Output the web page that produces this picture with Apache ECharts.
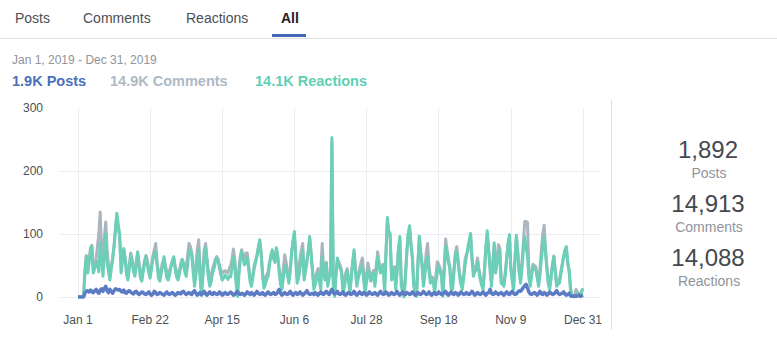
<!DOCTYPE html>
<html>
<head>
<meta charset="utf-8">
<title>Activity</title>
<script src="https://cdn.jsdelivr.net/npm/echarts@6/dist/echarts.min.js"></script>
<style>
  html, body { margin: 0; padding: 0; background: #fff; }
  #main { width: 777px; height: 350px; }
</style>
</head>
<body>
<div id="main"></div>
<script>
// tabs + summary texts
const tabs = ['Posts', 'Comments', 'Reactions', 'All']
const dateRange = 'Jan 1, 2019 - Dec 31, 2019'
const totals = ['1,892', '14,913', '14,088']
const totalNames = ['Posts', 'Comments', 'Reactions']
const shortTotals = ['1.9K Posts', '14.9K Comments', '14.1K Reactions']
const yTicks = [0, 100, 200, 300]

// daily values, Jan 1 .. Dec 31 2019
const reactions = [
  0, 0, 0, 0, 0, 40, 64, 38, 55, 70,
  81, 38, 45, 50, 56, 40, 85, 60, 33, 70,
  100, 55, 40, 27, 45, 60, 80, 110, 133, 115,
  100, 38, 55, 77, 60, 35, 27, 45, 67, 55,
  40, 33, 50, 72, 50, 30, 25, 40, 55, 64,
  50, 38, 30, 45, 60, 65, 72, 50, 30, 25,
  38, 50, 64, 45, 30, 27, 35, 48, 55, 64,
  45, 32, 27, 35, 48, 59, 50, 40, 33, 50,
  75, 70, 67, 40, 17, 35, 55, 75, 30, 2,
  30, 60, 78, 55, 30, 17, 25, 38, 45, 55,
  62, 58, 45, 35, 27, 30, 35, 32, 28, 33,
  32, 45, 64, 50, 20, 1, 35, 60, 72, 60,
  51, 55, 62, 45, 25, 17, 30, 45, 55, 65,
  80, 91, 70, 35, 14, 20, 28, 33, 50, 65,
  75, 60, 55, 78, 65, 40, 20, 12, 30, 50,
  45, 35, 22, 40, 70, 90, 104, 60, 22, 30,
  45, 60, 75, 27, 40, 55, 75, 96, 70, 40,
  12, 20, 30, 38, 25, 12, 64, 38, 27, 54,
  17, 30, 35, 253, 20, 1, 35, 62, 50, 45,
  38, 6, 15, 30, 41, 25, 6, 30, 55, 75,
  40, 17, 30, 38, 45, 49, 25, 6, 25, 43,
  35, 25, 30, 38, 17, 40, 64, 50, 38, 42,
  49, 6, 70, 126, 105, 101, 27, 35, 43, 12,
  40, 75, 96, 17, 8, 0, 30, 70, 100, 113,
  85, 64, 17, 8, 1, 50, 97, 70, 49, 17,
  35, 55, 64, 40, 22, 25, 27, 6, 25, 40,
  49, 40, 33, 1, 40, 80, 70, 55, 45, 12,
  12, 40, 65, 72, 55, 33, 20, 12, 30, 50,
  65, 78, 90, 101, 60, 33, 40, 43, 55, 40,
  27, 18, 12, 40, 80, 105, 75, 43, 17, 50,
  86, 38, 50, 64, 75, 22, 20, 17, 35, 60,
  85, 99, 43, 25, 12, 60, 98, 70, 38, 22,
  45, 75, 96, 80, 64, 30, 17, 35, 49, 45,
  43, 30, 17, 35, 60, 80, 96, 70, 43, 20,
  12, 30, 50, 64, 40, 17, 20, 22, 35, 50,
  65, 75, 80, 55, 43, 12, 1, 0, 0, 2,
  5, 3, 1, 8, 14
]

const comments = [
  0, 0, 0, 0, 0, 42, 66, 45, 60, 78,
  82, 45, 50, 60, 80, 100, 135, 70, 45, 95,
  119, 75, 48, 35, 50, 62, 82, 105, 128, 110,
  95, 60, 65, 75, 62, 45, 38, 50, 70, 60,
  48, 40, 55, 70, 55, 38, 35, 45, 58, 66,
  58, 45, 40, 50, 65, 75, 85, 55, 38, 35,
  45, 55, 60, 50, 40, 35, 42, 50, 58, 62,
  50, 40, 35, 42, 52, 60, 55, 48, 45, 65,
  85, 80, 70, 48, 30, 50, 75, 91, 40, 10,
  45, 75, 85, 60, 40, 25, 35, 45, 52, 60,
  64, 60, 50, 42, 38, 40, 42, 40, 38, 45,
  50, 60, 76, 60, 30, 8, 45, 65, 75, 62,
  60, 70, 70, 50, 32, 25, 35, 50, 58, 66,
  78, 88, 68, 40, 20, 28, 35, 40, 55, 65,
  72, 62, 60, 75, 62, 45, 28, 20, 45, 67,
  55, 42, 30, 45, 72, 88, 100, 62, 30, 45,
  60, 75, 85, 35, 45, 58, 72, 92, 68, 45,
  20, 28, 38, 45, 30, 40, 85, 45, 35, 55,
  25, 35, 40, 245, 25, 8, 40, 60, 55, 50,
  42, 15, 25, 38, 45, 30, 12, 35, 55, 72,
  45, 25, 35, 45, 55, 62, 35, 12, 35, 54,
  42, 32, 35, 42, 25, 50, 72, 55, 45, 48,
  52, 15, 72, 120, 100, 95, 35, 42, 48, 20,
  45, 78, 92, 28, 15, 5, 35, 72, 100, 110,
  82, 62, 25, 12, 8, 55, 95, 72, 52, 25,
  45, 70, 85, 50, 30, 32, 30, 12, 35, 56,
  52, 45, 38, 8, 50, 92, 75, 60, 48, 18,
  20, 45, 70, 80, 58, 38, 28, 18, 35, 59,
  68, 72, 85, 95, 62, 40, 45, 50, 62, 45,
  32, 25, 18, 45, 78, 100, 75, 48, 25, 55,
  82, 45, 60, 83, 78, 30, 25, 22, 40, 62,
  85, 95, 48, 30, 18, 62, 95, 70, 42, 30,
  55, 85, 120, 120, 118, 40, 22, 40, 52, 50,
  48, 35, 22, 45, 75, 100, 114, 75, 48, 25,
  18, 35, 52, 65, 42, 22, 25, 28, 40, 52,
  62, 72, 78, 52, 42, 15, 3, 1, 2, 12,
  8, 4, 2, 10, 10
]

const posts = [
  0, 0, 0, 0, 0, 6, 9, 10, 8, 11,
  9, 7, 10, 12, 8, 6, 11, 13, 9, 14,
  17, 10, 7, 12, 9, 6, 10, 13, 12, 11,
  12, 9, 8, 11, 7, 6, 9, 10, 8, 6,
  5, 8, 9, 6, 4, 6, 8, 7, 5, 4,
  6, 8, 5, 3, 5, 9, 7, 4, 5, 7,
  6, 4, 3, 6, 8, 5, 4, 6, 7, 5,
  3, 4, 7, 6, 5, 8, 9, 6, 4, 6,
  7, 5, 4, 8, 10, 6, 3, 5, 7, 4,
  6, 9, 5, 3, 6, 8, 5, 4, 7, 6,
  4, 5, 8, 6, 3, 5, 7, 5, 4, 6,
  8, 6, 3, 4, 7, 9, 5, 4, 6, 5,
  3, 5, 8, 6, 4, 7, 5, 3, 6, 9,
  6, 4, 5, 7, 4, 3, 6, 8, 5, 4,
  6, 7, 4, 5, 8, 12, 6, 3, 5, 7,
  5, 4, 6, 9, 5, 3, 6, 7, 4, 5,
  8, 6, 3, 5, 7, 10, 6, 4, 5, 6,
  4, 7, 5, 3, 6, 8, 5, 4, 7, 9,
  6, 4, 8, 12, 7, 5, 6, 9, 5, 4,
  6, 8, 4, 3, 6, 7, 5, 4, 6, 9,
  5, 3, 6, 8, 5, 4, 7, 6, 3, 5,
  8, 6, 4, 5, 7, 5, 3, 6, 9, 6,
  4, 5, 8, 6, 3, 5, 7, 5, 4, 6,
  9, 5, 3, 6, 8, 5, 4, 7, 6, 4,
  5, 8, 6, 3, 5, 7, 5, 4, 6, 9,
  6, 4, 5, 8, 5, 3, 6, 7, 4, 5,
  8, 6, 4, 5, 7, 9, 5, 3, 6, 8,
  5, 4, 7, 6, 3, 5, 8, 6, 4, 5,
  7, 5, 4, 6, 9, 6, 3, 5, 7, 5,
  4, 6, 8, 5, 3, 6, 7, 12, 6, 4,
  5, 8, 6, 4, 6, 7, 5, 3, 6, 8,
  5, 4, 7, 9, 6, 4, 5, 8, 10, 9,
  12, 15, 18, 20, 14, 8, 5, 4, 6, 7,
  5, 3, 6, 9, 5, 4, 7, 6, 3, 5,
  8, 6, 4, 5, 7, 10, 6, 4, 5, 6,
  8, 5, 3, 4, 6, 2, 1, 1, 2, 1,
  2, 3, 1, 2, 3
]

// category labels "Jan 1" .. "Dec 31"
const monthNames = ['Jan', 'Feb', 'Mar', 'Apr', 'May', 'Jun', 'Jul', 'Aug', 'Sep', 'Oct', 'Nov', 'Dec']
const days = []
for (let i = 0; i < posts.length; i++) {
  const d = new Date(Date.UTC(2019, 0, 1 + i))
  days.push(monthNames[d.getUTCMonth()] + ' ' + d.getUTCDate())
}

const FONT = '"Liberation Sans", Arial, Helvetica, sans-serif'
const gridColor = '#ebedf0'
const axisText = '#4b4f56'

const chart = echarts.init(document.getElementById('main'), null, { renderer: 'svg' })

const graphics = [
  { type: 'rect', shape: { x: 0, y: 38, width: 777, height: 1 }, style: { fill: '#dddfe2' }, silent: true },
  { type: 'rect', shape: { x: 272, y: 34, width: 34, height: 3 }, style: { fill: '#4267b2' }, silent: true },
  { type: 'rect', shape: { x: 611, y: 100, width: 1, height: 230 }, style: { fill: '#dddfe2' }, silent: true }
]
const tabX = [15, 83, 186, 281]
tabs.forEach((t, i) => {
  const active = i === tabs.length - 1
  graphics.push({
    type: 'text', x: tabX[i], y: 18,
    style: {
      text: t, fill: active ? '#1d2129' : '#4b4f56',
      font: (active ? 'bold ' : '') + '14px ' + FONT,
      verticalAlign: 'middle'
    }
  })
})
graphics.push({
  type: 'text', x: 12, y: 60,
  style: { text: dateRange, fill: '#90949c', font: '12px ' + FONT, verticalAlign: 'middle' }
})
const shortX = [12, 110, 255]
const shortColors = ['#4a6fbd', '#adb9c4', '#5fd0b5']
shortTotals.forEach((t, i) => {
  graphics.push({
    type: 'text', x: shortX[i], y: 81,
    style: { text: t, fill: shortColors[i], font: 'bold 14.5px ' + FONT, verticalAlign: 'middle' }
  })
})
const totalY = [149, 203, 257]
totals.forEach((t, i) => {
  graphics.push({
    type: 'text', x: 708, y: totalY[i],
    style: { text: t, fill: '#444950', font: '24px ' + FONT, align: 'center', verticalAlign: 'middle' }
  })
  graphics.push({
    type: 'text', x: 709, y: totalY[i] + 24,
    style: { text: totalNames[i], fill: '#90949c', font: '14px ' + FONT, align: 'center', verticalAlign: 'middle' }
  })
})

chart.setOption({
  animation: false,
  grid: [
    { left: 60, right: 177, top: 108, bottom: 53 },
    { left: 78, right: 194, top: 108, bottom: 53 }
  ],
  xAxis: [
    { gridIndex: 0, type: 'value', min: 0, max: 1, show: false },
    {
      gridIndex: 1,
      type: 'category',
      data: days,
      boundaryGap: false,
      axisLine: { show: false },
      axisTick: { show: false },
      axisLabel: { interval: 51, margin: 17, color: axisText, fontSize: 12, fontFamily: FONT },
      splitLine: { show: true, interval: 51, lineStyle: { color: gridColor, width: 1 } }
    }
  ],
  yAxis: [
    {
      gridIndex: 0,
      type: 'value',
      min: yTicks[0],
      max: yTicks[yTicks.length - 1],
      interval: 100,
      axisLine: { show: false },
      axisTick: { show: false },
      axisLabel: { margin: 17, color: axisText, fontSize: 12, fontFamily: FONT },
      splitLine: { show: true, showMaxLine: false, lineStyle: { color: gridColor, width: 1 } }
    },
    { gridIndex: 1, type: 'value', min: 0, max: 300, show: false }
  ],
  series: [
    {
      name: 'Comments', type: 'line', xAxisIndex: 1, yAxisIndex: 1,
      data: comments, showSymbol: false,
      lineStyle: { color: '#aab5bf', width: 3, join: 'round' }, itemStyle: { color: '#aab5bf' }
    },
    {
      name: 'Reactions', type: 'line', xAxisIndex: 1, yAxisIndex: 1,
      data: reactions, showSymbol: false,
      lineStyle: { color: '#6ccfb7', width: 3, join: 'round' }, itemStyle: { color: '#6ccfb7' }
    },
    {
      name: 'Posts', type: 'line', xAxisIndex: 1, yAxisIndex: 1,
      data: posts, showSymbol: false,
      lineStyle: { color: '#5b7bc4', width: 3.5, join: 'round' }, itemStyle: { color: '#5b7bc4' }
    }
  ],
  graphic: graphics
})
</script>
</body>
</html>
